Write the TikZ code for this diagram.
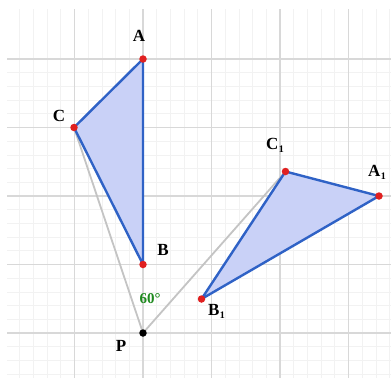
\documentclass[tikz,border=0pt]{standalone}
\usepackage{fontspec}
\setmainfont{Liberation Serif}
\definecolor{minorgrid}{HTML}{F2F2F2}
\definecolor{majorgrid}{HTML}{D8D8D8}
\definecolor{trifill}{HTML}{C9D1F7}
\definecolor{triedge}{HTML}{2F62C6}
\definecolor{ptred}{HTML}{E02020}
\definecolor{raygray}{HTML}{C4C4C4}
\definecolor{anggreen}{HTML}{1E8A1E}
\tikzset{
  tri/.style={draw=triedge, line width=2.4pt, fill=trifill, line join=round},
  ray/.style={draw=raygray, line width=1.8pt},
  vtx/.style={circle, fill=ptred, inner sep=0pt, minimum size=7.5pt},
  pdot/.style={circle, fill=black, inner sep=0pt, minimum size=7.5pt},
  lbl/.style={font=\fontsize{17}{17}\selectfont\bfseries, inner sep=0pt},
  sub/.style={font=\fontsize{10}{10}\selectfont\bfseries, inner sep=0pt},
}
\begin{document}
\begin{tikzpicture}[x=1pt,y=-1pt]
\useasboundingbox (0,0) rectangle (391,378);
\fill[white] (0,0) rectangle (391,378);
\begin{scope}
\clip (7,9) rectangle (391,378);
\foreach \i in {-12,...,20} {
  \draw[minorgrid, line width=0.8pt] (143+\i*13.7,0) -- (143+\i*13.7,378);
  \draw[minorgrid, line width=0.8pt] (0,333-\i*13.7) -- (391,333-\i*13.7);
}
\foreach \i in {-2,...,4} {
  \draw[majorgrid, line width=1.2pt] (143+\i*68.5,0) -- (143+\i*68.5,378);
}
\foreach \i in {-1,...,5} {
  \draw[majorgrid, line width=1.2pt] (0,333-\i*68.5) -- (391,333-\i*68.5);
}
\end{scope}
% points
\coordinate (P) at (143,333);
\coordinate (A) at (143,59);
\coordinate (B) at (143,264.5);
\coordinate (C) at (74,127.5);
\coordinate (A1) at (379,196);
\coordinate (B1) at (201.5,299);
\coordinate (C1) at (285.5,171.5);
% rays
\draw[ray] (P) -- (C);
\draw[ray] (P) -- (C1);
% triangles
\draw[tri] (A) -- (B) -- (C) -- cycle;
\draw[tri] (A1) -- (B1) -- (C1) -- cycle;
% vertices
\node[vtx] (nA) at (A) {};
\node[vtx] (nB) at (B) {};
\node[vtx] (nC) at (C) {};
\node[vtx] (nA1) at (A1) {};
\node[vtx] (nB1) at (B1) {};
\node[vtx] (nC1) at (C1) {};
\node[pdot] (nP) at (P) {};
% labels
\node[lbl] (lA) at (139,36) {A};
\node[lbl] (lC) at (59,116) {C};
\node[lbl] (lB) at (163,250) {B};
\node[lbl] (lP) at (121,346) {P};
\node[lbl, anchor=west] (lC1) at (266,144) {C};
\node[sub, anchor=west] (sC1) at (lC1.east) [yshift=-5pt] {1};
\node[lbl, anchor=west] (lA1) at (368,171) {A};
\node[sub, anchor=west] (sA1) at (lA1.east) [yshift=-5pt] {1};
\node[lbl, anchor=west] (lB1) at (208,310) {B};
\node[sub, anchor=west] (sB1) at (lB1.east) [yshift=-5pt] {1};
\node[lbl, text=anggreen, font=\fontsize{15}{15}\selectfont\bfseries] (ang) at (150,299) {60°};
\end{tikzpicture}
\end{document}
